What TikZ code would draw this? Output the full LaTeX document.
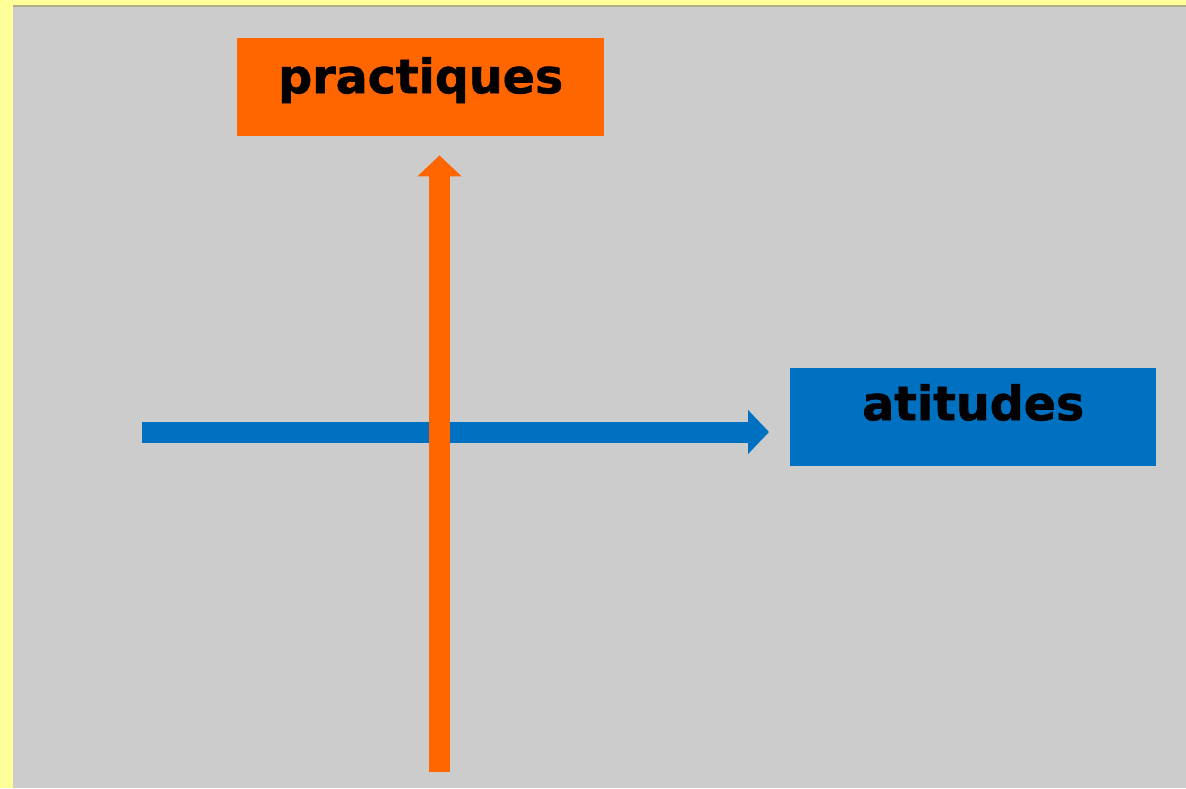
\documentclass[tikz,border=0pt]{standalone}
\usepackage{fontspec}
\setmainfont{DejaVu Sans}[BoldFeatures={FakeBold=1.2}]
\usetikzlibrary{arrows.meta}
\definecolor{bgyellow}{RGB}{255,255,153}
\definecolor{bggray}{RGB}{204,204,204}
\definecolor{orng}{RGB}{255,102,0}
\definecolor{blu}{RGB}{0,112,192}
\definecolor{shadowc}{RGB}{175,175,135}
\tikzset{
  box/.style={inner xsep=0pt, inner ysep=0pt, minimum width=#1, anchor=north west,
    font=\fontsize{47.5}{50}\selectfont\bfseries, text=black},
  bigarrow/.style={line width=21pt, line cap=butt}
}
\begin{document}
\begin{tikzpicture}[x=1pt,y=-1pt]
\useasboundingbox (0,0) rectangle (1186,788);
\fill[bgyellow] (0,0) rectangle (1186,788);
\fill[bggray] (13,5) rectangle (1186,788);
\draw[shadowc, line width=1.5pt] (13,5.75) -- (1186,5.75);
\node[box=367pt, fill=orng, text height=55pt, text depth=43pt] (prac) at (237,38) {practiques};
\node[box=366pt, fill=blu, text height=52pt, text depth=46pt] (atit) at (790,368) {atitudes};
\coordinate (obot) at (439.5,772);
\coordinate (bleft) at (142,432);
\draw[bigarrow, blu, -{Triangle[width=43pt,length=21pt]}, shorten >=21pt] (bleft) -- (bleft -| atit.west);
\draw[bigarrow, orng, -{Triangle[width=43pt,length=21pt]}, shorten >=19pt] (obot) -- (obot |- prac.south);
\end{tikzpicture}
\end{document}
